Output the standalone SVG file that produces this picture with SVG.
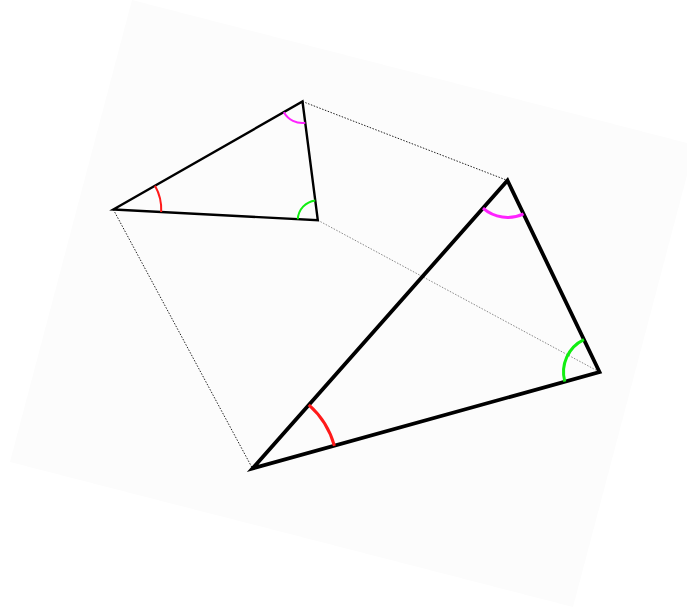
<svg xmlns="http://www.w3.org/2000/svg" width="687" height="608" viewBox="0 0 687 608">
<style>
.tri{fill:none;stroke:#000;stroke-linejoin:miter}
.dot{fill:none;stroke:#222;stroke-width:1;stroke-dasharray:1.5,1.5}
.dot2{fill:none;stroke:#888;stroke-width:1;stroke-dasharray:1.5,1.5}
.arc{fill:none}
.red{stroke:#ff1a1a}
.mag{stroke:#ff22ff}
.grn{stroke:#11ee11}
</style>
<rect width="687" height="608" fill="#fff"/>
<polygon points="132,0 695,145 573,607 10,462" fill="#fcfcfc"/>
<g id="connectors">
<line class="dot" x1="302.5" y1="101.5" x2="507.5" y2="180.5"/>
<line class="dot" x1="113.3" y1="209.5" x2="252.5" y2="468.5"/>
<line class="dot2" x1="317.8" y1="220.2" x2="599.5" y2="372"/>
</g>
<g id="small-triangle">
<polygon class="tri" stroke-width="2.4" points="113.3,209.5 302.5,101.5 317.8,220.2"/>
<path class="arc red" stroke-width="2" d="M155.0,185.7 A48,48 0 0 1 161.2,212.0"/>
<path class="arc mag" stroke-width="2" d="M305.3,122.8 A21.5,21.5 0 0 1 283.8,112.2"/>
<path class="arc grn" stroke-width="2" d="M297.8,219.2 A20,20 0 0 1 315.2,200.4"/>
</g>
<g id="large-triangle">
<polygon class="tri" stroke-width="3.8" points="252.5,468.5 507.5,180.5 599.5,372"/>
<path class="arc red" stroke-width="3" d="M308.8,404.8 A85,85 0 0 1 334.4,445.8"/>
<path class="arc mag" stroke-width="3" d="M523.5,213.8 A37,37 0 0 1 483.0,208.2"/>
<path class="arc grn" stroke-width="3" d="M564.8,381.6 A36,36 0 0 1 583.9,339.6"/>
</g>
</svg>
